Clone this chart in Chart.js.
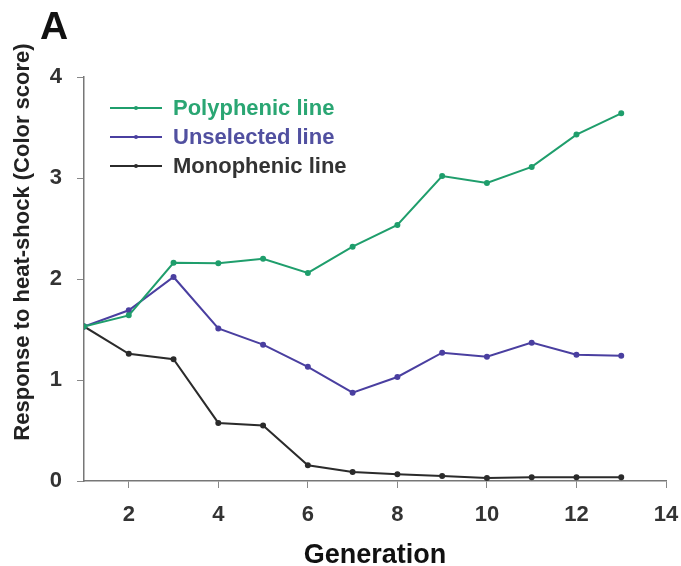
<!DOCTYPE html>
<html>
<head>
<meta charset="utf-8">
<script src="https://cdn.jsdelivr.net/npm/chart.js@4.4.1/dist/chart.umd.min.js"></script>
<style>
  html, body { margin: 0; padding: 0; background: #fff; }
  canvas { display: block; }
</style>
</head>
<body>
<canvas id="heatChart" width="681" height="566"></canvas>
<script>
    // data
    const generations = [1, 2, 3, 4, 5, 6, 7, 8, 9, 10, 11, 12, 13];
    const polyphenic = [1.53, 1.64, 2.16, 2.155, 2.2, 2.06, 2.32, 2.535, 3.02, 2.95, 3.11, 3.43, 3.64];
    const unselected = [1.53, 1.69, 2.02, 1.51, 1.35, 1.13, 0.875, 1.03, 1.27, 1.23, 1.37, 1.25, 1.24];
    const monophenic = [1.53, 1.26, 1.205, 0.575, 0.55, 0.155, 0.09, 0.066, 0.05, 0.03, 0.037, 0.037, 0.037];
    const xTicks = [2, 4, 6, 8, 10, 12, 14];
    const yTicks = [0, 1, 2, 3, 4];
    const seriesNames = ['Polyphenic line', 'Unselected line', 'Monophenic line'];
    const seriesColors = ['#1f9e6c', '#4a3fa0', '#2b2b2b'];
    const legendText = ['#2aa673', '#5150a0', '#333333'];

    const toPoints = arr => arr.map((v, i) => ({ x: generations[i], y: v }));
    const family = '"Liberation Sans", Arial, sans-serif';
    const f = s => 'bold ' + s + 'px ' + family;

    // panel letter, y-axis title and in-plot legend
    const decorations = {
      id: 'decorations',
      afterDraw(chart) {
        const c = chart.ctx;
        c.save();
        c.fillStyle = '#111';
        c.font = f(39);
        c.textBaseline = 'alphabetic';
        c.fillText('A', 40, 39);

        c.translate(23, 242);
        c.rotate(-Math.PI / 2);
        c.font = f(22);
        c.textAlign = 'center';
        c.textBaseline = 'middle';
        c.fillStyle = '#222';
        c.fillText('Response to heat-shock (Color score)', 0, 0);
        c.restore();

        c.save();
        const rows = [108, 137, 166];
        seriesNames.forEach((name, i) => {
          const y = rows[i];
          c.strokeStyle = seriesColors[i];
          c.lineWidth = 2;
          c.beginPath();
          c.moveTo(110, y);
          c.lineTo(162, y);
          c.stroke();
          c.fillStyle = seriesColors[i];
          c.beginPath();
          c.arc(136, y, 2, 0, Math.PI * 2);
          c.fill();
          c.fillStyle = legendText[i];
          c.font = f(22);
          c.textBaseline = 'middle';
          c.fillText(name, 173, y + 1);
        });
        c.restore();
      }
    };

    const ctxHeat = document.getElementById('heatChart');
    new Chart(ctxHeat, {
      type: 'line',
      data: {
        datasets: [polyphenic, unselected, monophenic].map((vals, i) => ({
          label: seriesNames[i],
          data: toPoints(vals),
          borderColor: seriesColors[i],
          backgroundColor: seriesColors[i],
          borderWidth: 2,
          pointRadius: 2,
          pointHoverRadius: 2,
          tension: 0,
          fill: false
        }))
      },
      options: {
        responsive: false,
        animation: false,
        layout: { padding: { top: 77, right: 15, left: 0, bottom: 0 } },
        plugins: { legend: { display: false }, tooltip: { enabled: false } },
        scales: {
          x: {
            type: 'linear',
            min: 1,
            max: 14,
            afterFit: s => { s.height = 85; s.paddingRight = 0; s.paddingLeft = 0; },
            afterBuildTicks: s => { s.ticks = xTicks.map(v => ({ value: v })); },
            grid: { drawOnChartArea: false, tickLength: 7, color: '#888', lineWidth: 1 },
            border: { color: '#777', width: 1.5 },
            ticks: { color: '#333', font: { family: family, size: 22, weight: 'bold' }, padding: 14, maxRotation: 0 },
            title: {
              display: true,
              text: 'Generation',
              color: '#111',
              font: { family: family, size: 27, weight: 'bold', lineHeight: 1 },
              padding: { top: 0, bottom: -3 }
            }
          },
          y: {
            min: 0,
            max: 4,
            afterFit: s => { s.width = 84; s.paddingTop = 0; s.paddingBottom = 0; },
            afterBuildTicks: s => { s.ticks = yTicks.map(v => ({ value: v })); },
            grid: { drawOnChartArea: false, tickLength: 7, color: '#888', lineWidth: 1 },
            border: { color: '#777', width: 1.5 },
            ticks: { color: '#333', font: { family: family, size: 22, weight: 'bold' }, padding: 15 }
          }
        }
      },
      plugins: [decorations]
    });
</script>
</body>
</html>
